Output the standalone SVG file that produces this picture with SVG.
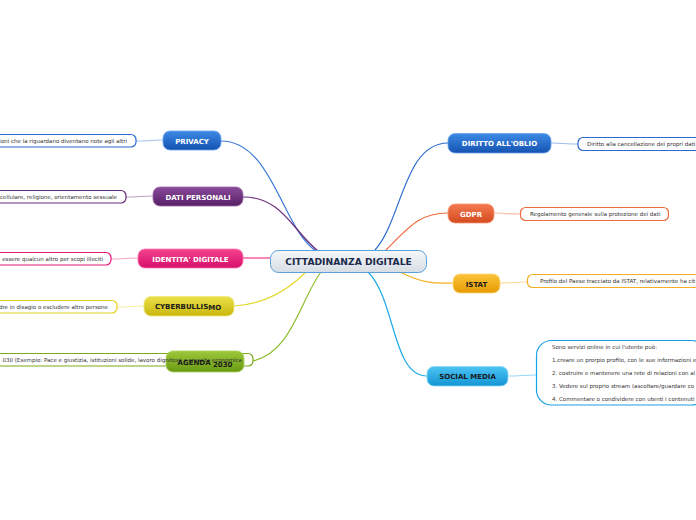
<svg xmlns="http://www.w3.org/2000/svg" width="696" height="520" viewBox="0 0 696 520">
<defs>
<linearGradient id="gBlue" x1="0" y1="0" x2="0" y2="1"><stop offset="0" stop-color="#3d8ae6"/><stop offset="1" stop-color="#1552b0"/></linearGradient>
<linearGradient id="gPurple" x1="0" y1="0" x2="0" y2="1"><stop offset="0" stop-color="#8a4a9a"/><stop offset="1" stop-color="#562066"/></linearGradient>
<linearGradient id="gPink" x1="0" y1="0" x2="0" y2="1"><stop offset="0" stop-color="#f5438f"/><stop offset="1" stop-color="#d6106a"/></linearGradient>
<linearGradient id="gYellow" x1="0" y1="0" x2="0" y2="1"><stop offset="0" stop-color="#ece04a"/><stop offset="1" stop-color="#c9b70e"/></linearGradient>
<linearGradient id="gGreen" x1="0" y1="0" x2="0" y2="1"><stop offset="0" stop-color="#9cc93a"/><stop offset="1" stop-color="#6a9a14"/></linearGradient>
<linearGradient id="gOrange" x1="0" y1="0" x2="0" y2="1"><stop offset="0" stop-color="#f47a50"/><stop offset="1" stop-color="#d44a20"/></linearGradient>
<linearGradient id="gAmber" x1="0" y1="0" x2="0" y2="1"><stop offset="0" stop-color="#fcc43a"/><stop offset="1" stop-color="#e59a00"/></linearGradient>
<linearGradient id="gSky" x1="0" y1="0" x2="0" y2="1"><stop offset="0" stop-color="#4cc4f4"/><stop offset="1" stop-color="#1494d4"/></linearGradient>
<linearGradient id="gCenter" x1="0" y1="0" x2="0" y2="1"><stop offset="0" stop-color="#f6f8fa"/><stop offset="1" stop-color="#d6dde4"/></linearGradient>
</defs>
<style>
.nt{font-family:"DejaVu Sans",Verdana,sans-serif;font-weight:bold;font-size:7px;text-anchor:middle;fill:#ffffff}
.dk{fill:#1a1a1a}
.lt{font-family:"DejaVu Sans",Verdana,sans-serif;font-size:5.5px;fill:#333333}
.leaf{fill:#ffffff;stroke-width:1.2}
.c{fill:none;stroke-width:1.2}
.lc{fill:none;stroke-width:1.2;opacity:0.45}
</style>
<rect width="696" height="520" fill="#ffffff"/>
<g id="connectors">
<path class="c" stroke="#3a7ad8" d="M221,141 C272,141 282,228 316,251"/>
<path class="c" stroke="#6a2a7a" d="M243,197 C282,197 292,230 318,251"/>
<path class="c" stroke="#ee3a8a" d="M243,258 L270,258"/>
<path class="c" stroke="#e6d830" d="M234,306 C268,304 290,288 306,272"/>
<path class="c" stroke="#8cbc2a" d="M253,361 C292,352 300,300 321,272"/>
<path class="c" stroke="#2a6ad0" d="M375,250 C402,220 404,143 448,143"/>
<path class="c" stroke="#f06a40" d="M386,250 C410,226 420,213 448,213"/>
<path class="c" stroke="#f4b020" d="M400,272 C420,282 432,284 453,283"/>
<path class="c" stroke="#1aaae8" d="M368,272 C396,300 392,376 427,376"/>
<path class="lc" stroke="#3a7ad8" d="M136,141 C148,141 152,140 163,140"/>
<path class="lc" stroke="#6a2a7a" d="M126,197 C138,197 142,196 153,196"/>
<path class="lc" stroke="#ee3a8a" d="M111,259 C123,259 127,258 138,258"/>
<path class="lc" stroke="#e6d830" d="M117,307 C129,307 133,306 144,306"/>
<path class="lc" stroke="#2a6ad0" d="M551,143 C562,143 566,144 578,144"/>
<path class="lc" stroke="#f06a40" d="M494,213 C506,213 510,214 520,214"/>
<path class="lc" stroke="#f4b020" d="M500,283 C512,283 516,282 527,282"/>
<path class="lc" stroke="#1aaae8" d="M508,376 C520,376 524,375 536,375"/>
</g>
<g id="center">
<rect x="270.5" y="250.5" width="156" height="22" rx="8" fill="url(#gCenter)" stroke="#5aa0dc" stroke-width="1"/>
<text x="348.5" y="265.2" class="nt" style="font-size:9.2px;fill:#1a2a4a">CITTADINANZA DIGITALE</text>
</g>
<g id="privacy">
<rect x="163" y="131" width="58" height="19" rx="7" fill="url(#gBlue)" stroke="#6aa4ec" stroke-width="0.8"/>
<text x="192" y="143.5" class="nt">PRIVACY</text>
<rect class="leaf" x="-5" y="134.5" width="141" height="12.5" rx="5" stroke="#2a6ad0"/>
<text x="127" y="143" class="lt" text-anchor="end">ioni che la riguardano diventano note agli altri</text>
</g>
<g id="dati-personali">
<rect x="153" y="187" width="90" height="19" rx="7" fill="url(#gPurple)" stroke="#9a6aaa" stroke-width="0.8"/>
<text x="198" y="199.5" class="nt">DATI PERSONALI</text>
<rect class="leaf" x="-5" y="190.5" width="131" height="12.5" rx="5" stroke="#6a2a7a"/>
<text x="117" y="199" class="lt" text-anchor="end">cellulare, religione, orientamento sessuale</text>
</g>
<g id="identita-digitale">
<rect x="138" y="249" width="105" height="19" rx="7" fill="url(#gPink)" stroke="#f67ab0" stroke-width="0.8"/>
<text x="190.5" y="261.5" class="nt">IDENTITA' DIGITALE</text>
<rect class="leaf" x="-5" y="252.5" width="116" height="12.5" rx="5" stroke="#e6197a"/>
<text x="103" y="261" class="lt" text-anchor="end">essere qualcun altro per scopi illeciti</text>
</g>
<g id="cyberbullismo">
<rect x="144" y="296.5" width="90" height="19.5" rx="7" fill="url(#gYellow)" stroke="#f0e87a" stroke-width="0.8"/>
<text x="188" y="309" class="nt dk">CYBERBULLIS<tspan dy="1">MO</tspan></text>
<rect class="leaf" x="-5" y="300.5" width="122" height="12.5" rx="5" stroke="#e6d21a"/>
<text x="108" y="309" class="lt" text-anchor="end">dre in disagio o escludere altre persone</text>
</g>
<g id="agenda-2030">
<rect class="leaf" x="-5" y="353.5" width="258" height="12.5" rx="5" stroke="#7aaa1a"/>
<rect x="166" y="351" width="78" height="21" rx="7" fill="url(#gGreen)" stroke="#aad060" stroke-width="0.8"/>
<text x="242" y="362" class="lt" text-anchor="end">030 (Esempio: Pace e giustizia, istituzioni solide, lavoro dignitoso e crescita economica</text>
<text x="205" y="365" class="nt dk">AGENDA <tspan dy="1.5">2030</tspan></text>
</g>
<g id="diritto-oblio">
<rect x="448" y="133.5" width="103" height="19.5" rx="7" fill="url(#gBlue)" stroke="#6aa4ec" stroke-width="0.8"/>
<text x="499.5" y="146" class="nt">DIRITTO ALL'OBLIO</text>
<rect class="leaf" x="578" y="137.5" width="125" height="13" rx="5" stroke="#2a6ad0"/>
<text x="587" y="146.3" class="lt">Diritto alla cancellazione dei propri dati</text>
</g>
<g id="gdpr">
<rect x="448" y="204" width="46" height="19" rx="7" fill="url(#gOrange)" stroke="#f89a7a" stroke-width="0.8"/>
<text x="471" y="216.5" class="nt">GDPR</text>
<rect class="leaf" x="520.5" y="207.5" width="148" height="13" rx="5" stroke="#f06a40"/>
<text x="530" y="216.3" class="lt">Regolamento generale sulla protezione dei dati</text>
</g>
<g id="istat">
<rect x="453" y="274" width="47" height="19" rx="7" fill="url(#gAmber)" stroke="#fcd87a" stroke-width="0.8"/>
<text x="476.5" y="286.5" class="nt dk">ISTAT</text>
<rect class="leaf" x="527.5" y="274.5" width="175" height="13" rx="5" stroke="#f4b020"/>
<text x="540" y="283.3" class="lt">Profilo del Paese tracciato da ISTAT, relativamente ha cit</text>
</g>
<g id="social-media">
<rect x="427" y="366.5" width="81" height="19.5" rx="7" fill="url(#gSky)" stroke="#8ad8f8" stroke-width="0.8"/>
<text x="467.5" y="379" class="nt dk">SOCIAL MEDIA</text>
<rect class="leaf" x="536.5" y="340.5" width="170" height="64.5" rx="15" stroke="#1aa0e4"/>
<text x="552" y="349" class="lt">Sono servizi online in cui l'utente può:</text>
<text x="552" y="362" class="lt">1.creare un prorpio profilo, con le sue informazioni e</text>
<text x="552" y="375" class="lt">2. costruire e mantenere una rete di relazioni con al</text>
<text x="552" y="388" class="lt">3. Vedere sul proprio stream (ascoltare/guardare co</text>
<text x="552" y="401" class="lt">4. Commentare o condividere con utenti i contenuti</text>
</g>
</svg>
